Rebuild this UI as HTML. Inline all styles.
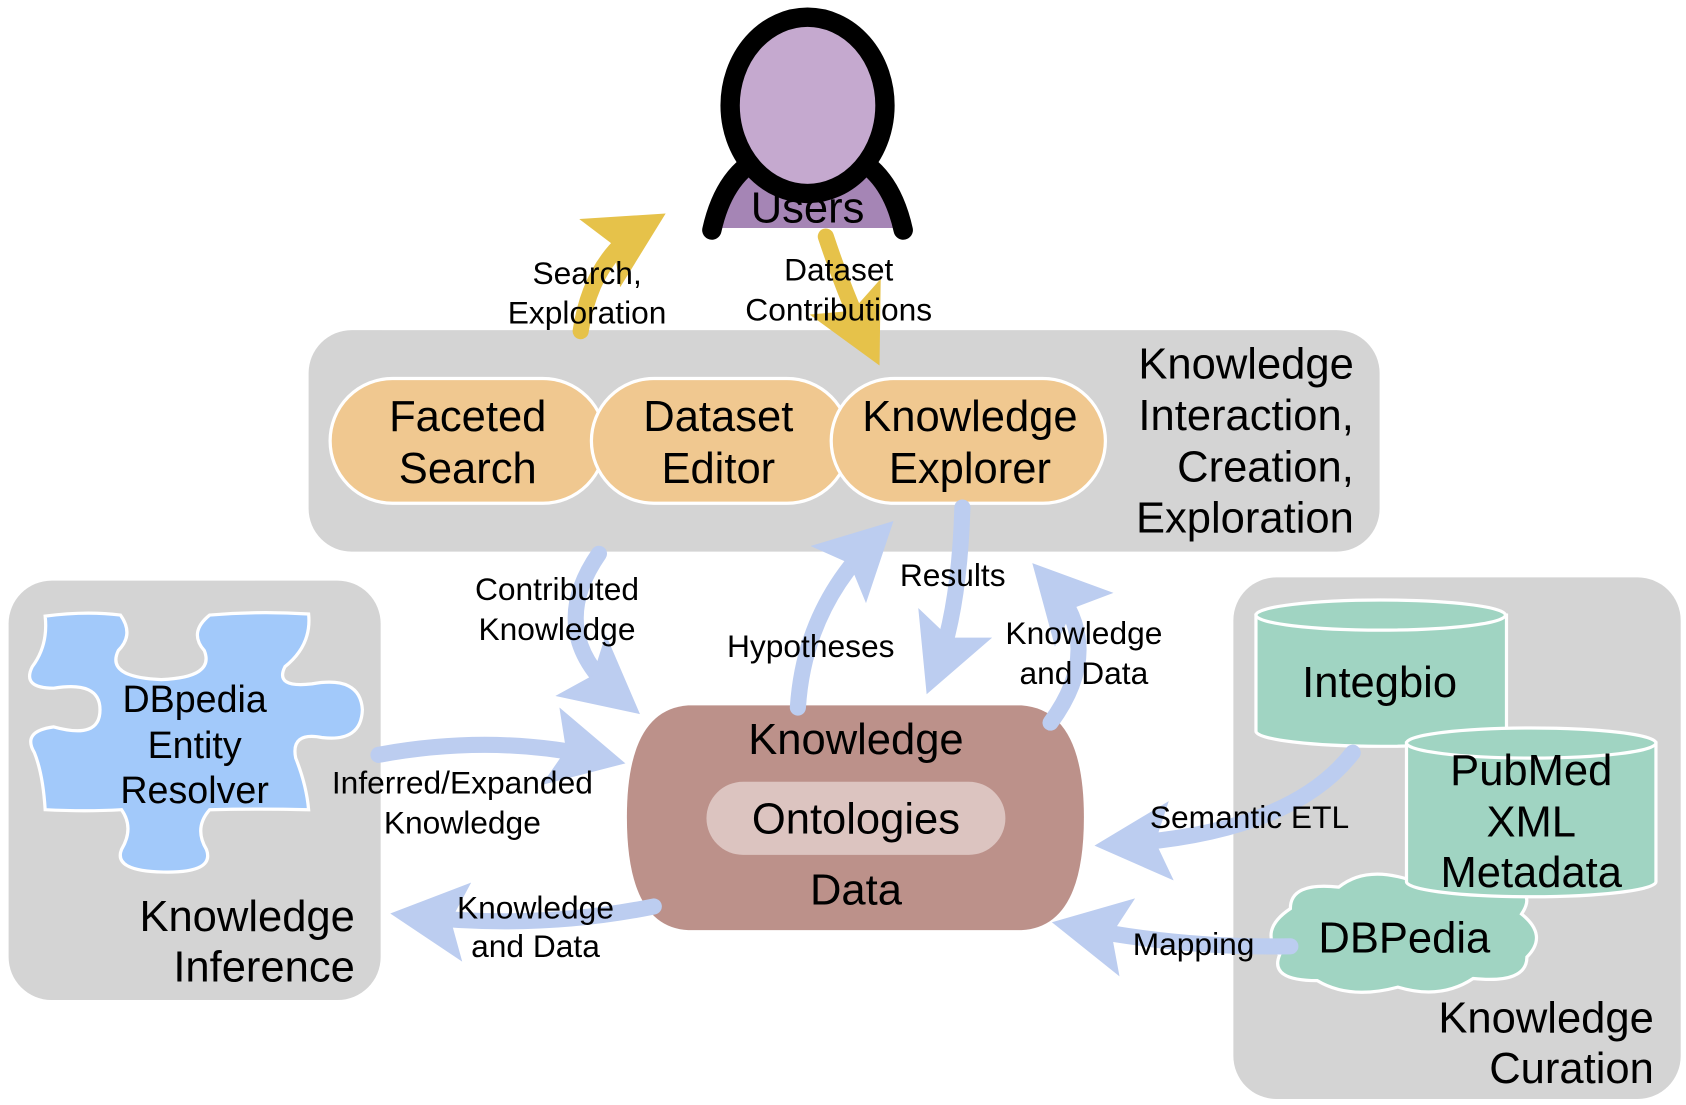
<!DOCTYPE html>
<html><head><meta charset="utf-8"><style>
html,body{margin:0;padding:0;background:#fff;}
svg{display:block;}
text{font-family:"Liberation Sans",Arial,sans-serif;fill:#000;}
.big{font-size:40.5px;}
.lab{font-size:29.5px;}
</style></head><body>
<svg width="1686" height="1105" viewBox="0 0 1686 1105" xmlns="http://www.w3.org/2000/svg">
<defs>
<marker id="bh" markerUnits="userSpaceOnUse" markerWidth="74" markerHeight="74" refX="40" refY="30" orient="auto" viewBox="0 0 60 60">
<path d="M0,0 L58,30 L0,60 L12,30 Z" fill="#bccdf0"/></marker>
<marker id="yh" markerUnits="userSpaceOnUse" markerWidth="74" markerHeight="74" refX="40" refY="30" orient="auto" viewBox="0 0 60 60">
<path d="M0,0 L58,30 L0,60 L12,30 Z" fill="#e6c24a"/></marker>
</defs>
<g transform="scale(1.0753)">
<rect x="287" y="307" width="996" height="206" rx="40" fill="#d4d4d4"/>
<rect x="8" y="540" width="346" height="390" rx="40" fill="#d4d4d4"/>
<rect x="1147" y="537" width="416" height="485" rx="40" fill="#d4d4d4"/>

<rect x="307" y="352" width="256" height="116" rx="58" fill="#f0c890" stroke="#fff" stroke-width="3"/>
<rect x="550" y="352" width="240" height="116" rx="58" fill="#f0c890" stroke="#fff" stroke-width="3"/>
<rect x="773" y="352" width="255" height="116" rx="58" fill="#f0c890" stroke="#fff" stroke-width="3"/>
<text class="big" x="435" y="401" text-anchor="middle">Faceted</text>
<text class="big" x="435" y="449" text-anchor="middle">Search</text>
<text class="big" x="668" y="401" text-anchor="middle">Dataset</text>
<text class="big" x="668" y="449" text-anchor="middle">Editor</text>
<text class="big" x="902" y="401" text-anchor="middle">Knowledge</text>
<text class="big" x="902" y="449" text-anchor="middle">Explorer</text>
<text class="big" x="1259" y="352" text-anchor="end">Knowledge</text>
<text class="big" x="1259" y="400" text-anchor="end">Interaction,</text>
<text class="big" x="1259" y="448" text-anchor="end">Creation,</text>
<text class="big" x="1259" y="495" text-anchor="end">Exploration</text>

<path d="M668,212 Q678,165 712,148 L790,148 Q824,165 834,212 Z" fill="#a585b5"/>
<path d="M662,214 Q674,160 712,144 M840,214 Q828,160 790,144" fill="none" stroke="#000" stroke-width="18" stroke-linecap="round"/>
<ellipse cx="751" cy="98" rx="72" ry="82" fill="#c5a9cf" stroke="#000" stroke-width="18"/>
<text class="big" x="751" y="207" text-anchor="middle">Users</text>

<path d="M42,573 Q80,568 112,572 Q125,590 110,605 Q98,630 150,632 Q200,630 190,605 Q175,588 195,572 Q240,568 287,571 Q290,600 265,620 Q255,640 290,636 Q335,628 337,660 Q336,690 300,686 Q270,680 275,705 Q285,730 287,753 Q240,752 195,753 Q180,770 192,790 Q200,812 152,811 Q105,810 113,790 Q125,770 113,753 Q80,755 42,753 Q40,720 32,700 Q20,680 50,676 Q93,688 93,660 Q93,633 50,640 Q20,640 30,620 Q45,600 42,573 Z" fill="#a2c9fa" stroke="#fff" stroke-width="3"/>
<text x="181" y="662" text-anchor="middle" style="font-size:35px">DBpedia</text>
<text x="181" y="705" text-anchor="middle" style="font-size:35px">Entity</text>
<text x="181" y="747" text-anchor="middle" style="font-size:35px">Resolver</text>
<text class="big" x="330" y="866" text-anchor="end">Knowledge</text>
<text class="big" x="330" y="913" text-anchor="end">Inference</text>

<path d="M1168,572 L1168,680 A116,14 0 0 0 1401,680 L1401,572 Z" fill="#a0d4c2" stroke="#fff" stroke-width="3"/>
<ellipse cx="1284" cy="572" rx="116" ry="14" fill="#a0d4c2" stroke="#fff" stroke-width="3"/>
<text class="big" x="1283" y="648" text-anchor="middle">Integbio</text>
<path d="M1200,845 Q1200,820 1245,825 Q1270,805 1310,818 Q1350,806 1390,822 Q1432,825 1415,850 Q1440,870 1420,890 Q1420,915 1370,910 Q1340,930 1300,918 Q1255,930 1225,912 Q1180,912 1190,888 Q1170,865 1200,845 Z" fill="#a0d4c2" stroke="#fff" stroke-width="3"/>
<path d="M1308,691 L1308,820 A116,14 0 0 0 1540,820 L1540,691 Z" fill="#a0d4c2" stroke="#fff" stroke-width="3"/>
<ellipse cx="1424" cy="691" rx="116" ry="14" fill="#a0d4c2" stroke="#fff" stroke-width="3"/>
<text class="big" x="1424" y="730" text-anchor="middle">PubMed</text>
<text class="big" x="1424" y="778" text-anchor="middle">XML</text>
<text class="big" x="1424" y="825" text-anchor="middle">Metadata</text>
<text class="big" x="1306" y="886" text-anchor="middle">DBPedia</text>
<text class="big" x="1538" y="960" text-anchor="end">Knowledge</text>
<text class="big" x="1538" y="1007" text-anchor="end">Curation</text>

<path d="M640,656 L950,656 Q1008,660 1008,760 Q1008,862 950,865 L640,865 Q583,862 583,760 Q583,660 640,656 Z" fill="#bc918a"/>
<rect x="657" y="727" width="278" height="68" rx="34" fill="#dcc4c0"/>
<text class="big" x="796" y="701" text-anchor="middle">Knowledge</text>
<text class="big" x="796" y="775" text-anchor="middle">Ontologies</text>
<text class="big" x="796" y="841" text-anchor="middle">Data</text>

<g fill="none" stroke-width="15" stroke-linecap="round">
<path d="M540,308 Q550,240 600,210" stroke="#e6c24a" marker-end="url(#yh)"/>
<path d="M768,220 Q788,280 808,320" stroke="#e6c24a" marker-end="url(#yh)"/>
<path d="M557,515 Q505,590 578,650" stroke="#bccdf0" marker-end="url(#bh)"/>
<path d="M742,658 Q748,565 815,500" stroke="#bccdf0" marker-end="url(#bh)"/>
<path d="M895,472 Q892,570 870,625" stroke="#bccdf0" marker-end="url(#bh)"/>
<path d="M977,672 Q1030,600 975,540" stroke="#bccdf0" marker-end="url(#bh)"/>
<path d="M352,702 Q460,682 560,705" stroke="#bccdf0" marker-end="url(#bh)"/>
<path d="M608,843 Q500,865 385,852" stroke="#bccdf0" marker-end="url(#bh)"/>
<path d="M1258,700 Q1200,775 1040,785" stroke="#bccdf0" marker-end="url(#bh)"/>
<path d="M1200,880 Q1100,882 1000,862" stroke="#bccdf0" marker-end="url(#bh)"/>
</g>

<text class="lab" x="546" y="264" text-anchor="middle">Search,</text>
<text class="lab" x="546" y="301" text-anchor="middle">Exploration</text>
<text class="lab" x="780" y="261" text-anchor="middle">Dataset</text>
<text class="lab" x="780" y="298" text-anchor="middle">Contributions</text>
<text class="lab" x="518" y="558" text-anchor="middle">Contributed</text>
<text class="lab" x="518" y="595" text-anchor="middle">Knowledge</text>
<text class="lab" x="754" y="611" text-anchor="middle">Hypotheses</text>
<text class="lab" x="886" y="545" text-anchor="middle">Results</text>
<text class="lab" x="1008" y="599" text-anchor="middle">Knowledge</text>
<text class="lab" x="1008" y="636" text-anchor="middle">and Data</text>
<text class="lab" x="430" y="738" text-anchor="middle">Inferred/Expanded</text>
<text class="lab" x="430" y="775" text-anchor="middle">Knowledge</text>
<text class="lab" x="498" y="854" text-anchor="middle">Knowledge</text>
<text class="lab" x="498" y="890" text-anchor="middle">and Data</text>
<text class="lab" x="1162" y="770" text-anchor="middle">Semantic ETL</text>
<text class="lab" x="1110" y="888" text-anchor="middle">Mapping</text>
</g>
</svg>
</body></html>
